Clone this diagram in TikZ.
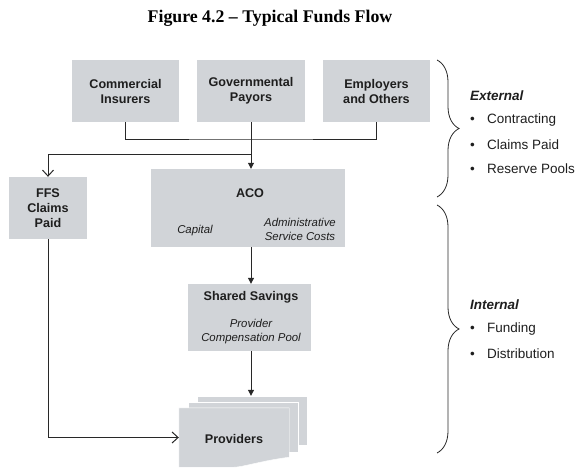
\documentclass[tikz,border=0pt]{standalone}
\usepackage{fontspec}
\setmainfont{Liberation Serif}
\setsansfont{Liberation Sans}
\usepackage{tikz}
\usetikzlibrary{positioning,arrows.meta,decorations.pathreplacing,calc}
\definecolor{boxgray}{RGB}{209,212,216}
\definecolor{ink}{RGB}{30,30,30}
\definecolor{wire}{RGB}{40,40,40}

\begin{document}
\begin{tikzpicture}[x=1pt,y=-1pt,
  box/.style={
    rectangle,
    fill=boxgray,
    inner sep=0pt
  },
  boxtext/.style={
    text=ink,
    font=\sffamily\bfseries\fontsize{12.6}{15}\selectfont,
    align=center,
    inner sep=0pt
  },
  note/.style={
    text=ink,
    font=\sffamily\itshape\fontsize{11.4}{14}\selectfont,
    align=center,
    inner sep=0pt
  },
  item/.style={
    anchor=west,
    inner sep=0pt,
    text=ink,
    font=\sffamily\fontsize{13.5}{16}\selectfont
  },
  head/.style={item, font=\sffamily\bfseries\itshape\fontsize{13.5}{16}\selectfont},
  link/.style={draw=wire, line width=1pt},
  tri/.tip={Triangle[length=6pt,width=6pt]},
  barb/.tip={Straight Barb[length=6pt,width=11pt]},
  curly/.style={draw=wire, line width=0.8pt, decorate,
    decoration={brace, amplitude=22pt}}
]
 \useasboundingbox (0,0) rectangle (586,474);
 \node[font=\bfseries\fontsize{17.8}{20}\selectfont] (title) at (270,18) {Figure 4.2 \textendash{} Typical Funds Flow};

 % payers
 \node[box, boxtext, minimum width=107pt, minimum height=62pt] (ci) at (125.5,91) {Commercial\\Insurers};
 \node[box, boxtext, minimum width=108pt, minimum height=62pt] (gp) at (251,91) {Governmental\\Payors};
 \node[box, boxtext, minimum width=107pt, minimum height=62pt] (eo) at (376.5,91) {Employers\\and Others};

 % middle row
 \node[box, boxtext, minimum width=78pt, minimum height=62pt] (ffs) at (48,208) {FFS\\Claims\\Paid};
 \node[box, minimum width=194pt, minimum height=78pt] (aco) at (248,208) {};
 \node[boxtext] (acotxt) at (250,193) {ACO};
 \node[note] (cap) at (195,231) {Capital};
 \node[note] (asc) at (300,229) {Administrative\\Service Costs};

 \node[box, minimum width=123pt, minimum height=67pt] (ss) at (249.5,317.5) {};
 \node[boxtext] (sstxt) at (251,297) {Shared Savings};
 \node[note] (pcp) at (251,331.5) {Provider\\Compensation Pool};

 % providers stack
 \node[box, draw=white, minimum width=110pt, minimum height=49pt] (provc) at (252,420.5) {};
 \node[box, draw=white, minimum width=110pt, minimum height=50pt] (provb) at (243,427) {};
 \node[minimum width=110pt, minimum height=59pt, inner sep=0pt] (prov) at (234,437.5) {};
 \filldraw[fill=boxgray, draw=white] (prov.north west) -- (prov.north east)
   -- ($(prov.south east)+(0,-10)$)
   .. controls ($(prov.south east)+(-25,-7)$) and ($(prov.south)+(8,0)$) .. (prov.south)
   -- (prov.south west) -- cycle;
 \node[boxtext] (provtxt) at (234,439) {Providers};

 % connectors
 \coordinate (join) at (251,139);
 \coordinate (split) at (251,154);
 \draw[link] (ci.south) |- (join) -| (eo.south);
 \draw[link, -tri] (gp.south) -- (aco.north -| gp.south);
 \draw[link, -barb] (split) -| (ffs.north);
 \draw[link, -tri] (aco.south -| gp.south) -- (ss.north -| gp.south);
 \draw[link, -tri] (ss.south -| gp.south) -- (provc.north -| gp.south);
 \draw[link, -barb] (ffs.south) |- (prov.west);

 % braces and notes
 \draw[curly] (437,60) -- (437,197);
 \draw[curly] (437,205) -- (437,453);
 \node[head] (ext) at (470,96) {External};
 \node[item] (con) at (470,120) {\makebox[17pt][l]{•}Contracting};
 \node[item] (clp) at (470,145) {\makebox[17pt][l]{•}Claims Paid};
 \node[item] (rsp) at (470,169) {\makebox[17pt][l]{•}Reserve Pools};
 \node[head] (int) at (470,305) {Internal};
 \node[item] (fnd) at (470,329) {\makebox[17pt][l]{•}Funding};
 \node[item] (dst) at (470,354) {\makebox[17pt][l]{•}Distribution};
\end{tikzpicture}
\end{document}
